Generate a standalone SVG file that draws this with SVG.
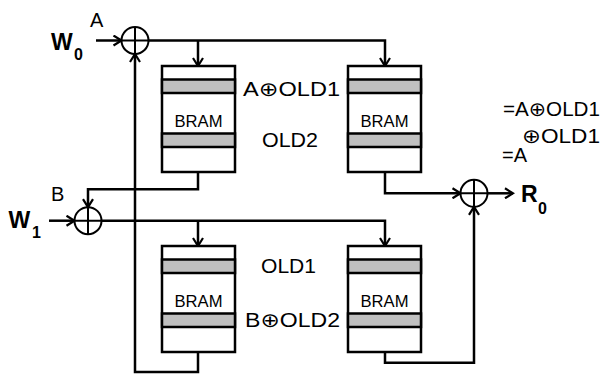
<svg xmlns="http://www.w3.org/2000/svg" width="603" height="376" viewBox="0 0 603 376">
<style>
.ln{fill:none;stroke:#000;stroke-width:2.5}
.box{fill:#fff;stroke:#000;stroke-width:2.5}
.bar{fill:#c0c0c0;stroke:#000;stroke-width:2.5}
.xor{fill:#fff;stroke:#000;stroke-width:2}
.t{font-family:"Liberation Sans","DejaVu Sans",sans-serif;font-size:20px;fill:#000}
.lb{font-family:"Liberation Sans","DejaVu Sans",sans-serif;font-size:20px;fill:#000}
.br{font-family:"Liberation Sans","DejaVu Sans",sans-serif;font-size:16px;fill:#000}
.bd{font-family:"Liberation Sans",sans-serif;font-size:23px;font-weight:bold;fill:#000}
.sb{font-family:"Liberation Sans",sans-serif;font-size:16px;font-weight:bold;fill:#000}
</style>
<defs>
<marker id="ah" viewBox="0 0 12 12" refX="10" refY="6" markerWidth="12" markerHeight="12" markerUnits="userSpaceOnUse" orient="auto">
<path d="M2,1 L10,6 L2,11" fill="none" stroke="#000" stroke-width="2.2"/>
</marker>
<g id="bram">
<rect class="box" x="0" y="0" width="73" height="106"/>
<rect class="bar" x="0" y="13.5" width="73" height="13.5"/>
<rect class="bar" x="0" y="67.5" width="73" height="13.5"/>
<text class="br" x="36.5" y="60.7" text-anchor="middle" textLength="48" lengthAdjust="spacingAndGlyphs">BRAM</text>
</g>
<g id="xorsym">
<circle class="xor" cx="0" cy="0" r="13.5"/>
<path class="ln" style="stroke-width:2" d="M-13.5,0 H13.5 M0,-13.5 V13.5"/>
</g>
</defs>

<g id="connectors">
<path class="ln" d="M96,40.5 H121.5" marker-end="url(#ah)"/>
<path class="ln" d="M148.5,40.5 H385 V66" marker-end="url(#ah)"/>
<path class="ln" d="M198,40.5 V66" marker-end="url(#ah)"/>
<path class="ln" d="M198,173 V189.3 H88 V207.2" marker-end="url(#ah)"/>
<path class="ln" d="M49,220.7 H74.5" marker-end="url(#ah)"/>
<path class="ln" d="M101.5,220.7 H385 V246" marker-end="url(#ah)"/>
<path class="ln" d="M198,220.7 V246" marker-end="url(#ah)"/>
<path class="ln" d="M198,352 V372 H135 V54" marker-end="url(#ah)"/>
<path class="ln" d="M385,173 V193.3 H460.5" marker-end="url(#ah)"/>
<path class="ln" d="M385,352 V362.7 H474 V206.8" marker-end="url(#ah)"/>
<path class="ln" d="M487.5,193.3 H513" marker-end="url(#ah)"/>
</g>

<g id="xor1"><use href="#xorsym" x="135" y="40.5"/></g>
<g id="xor2"><use href="#xorsym" x="88" y="220.7"/></g>
<g id="xor3"><use href="#xorsym" x="474" y="193.3"/></g>

<g id="bram1"><use href="#bram" x="162" y="66"/></g>
<g id="bram2"><use href="#bram" x="348" y="66"/></g>
<g id="bram3"><use href="#bram" x="162" y="246"/></g>
<g id="bram4"><use href="#bram" x="348" y="246"/></g>

<g id="w0"><text class="bd" x="51" y="49.5">W</text><text class="sb" x="74" y="60">0</text></g>
<g id="w1"><text class="bd" x="8.5" y="227.5">W</text><text class="sb" x="32" y="238">1</text></g>
<g id="r0"><text class="bd" x="521" y="202">R</text><text class="sb" x="538" y="214">0</text></g>

<g id="labels">
<text class="lb" x="90" y="27">A</text>
<text class="lb" x="51" y="200.5">B</text>
<text class="t" x="243" y="96" textLength="97" lengthAdjust="spacingAndGlyphs">A⊕OLD1</text>
<text class="t" x="262" y="147" textLength="56" lengthAdjust="spacingAndGlyphs">OLD2</text>
<text class="t" x="261" y="273.3" textLength="55" lengthAdjust="spacingAndGlyphs">OLD1</text>
<text class="t" x="245" y="327.3" textLength="95" lengthAdjust="spacingAndGlyphs">B⊕OLD2</text>
<text class="t" x="503" y="116" textLength="97" lengthAdjust="spacingAndGlyphs">=A⊕OLD1</text>
<text class="t" x="522" y="142.7" textLength="78" lengthAdjust="spacingAndGlyphs">⊕OLD1</text>
<text class="t" x="502" y="161.7">=A</text>
</g>
</svg>
